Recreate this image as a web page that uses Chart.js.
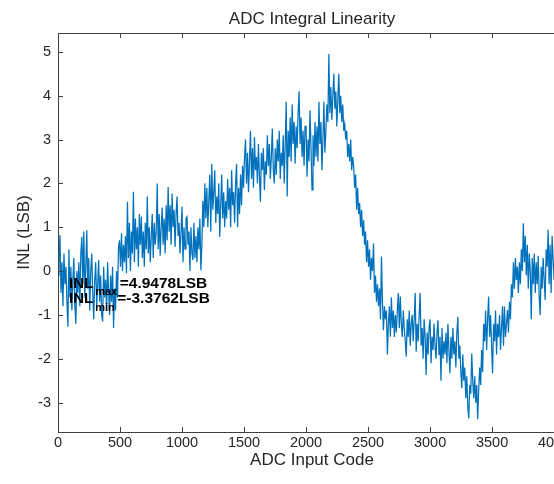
<!DOCTYPE html>
<html>
<head>
<meta charset="utf-8">
<title>ADC Integral Linearity</title>
<script src="https://cdn.jsdelivr.net/npm/chart.js@4.4.1/dist/chart.umd.min.js"></script>
<style>
  html, body { margin: 0; padding: 0; background: #fff; overflow: hidden; }
  #wrap { width: 600px; height: 484px; }
</style>
</head>
<body>
<div id="wrap"><canvas id="inlChart" width="600" height="484"></canvas></div>
<script>
// INL every 8 codes (0 .. 4000)
const codeStep = 8;
const inl = [
  -0.1, 0.3, 0.82, -0.5, 0.2, -0.8, 0.4, -0.3, 0.1, -0.7,
  -1.27, 0.5, -0.6, 0.1, -0.9, -0.2, 0.3, -0.8, -1.2, 0.0,
  -0.5, 0.2, -0.8, 0.4, 0.78, -0.3, 0.9, -0.6, 0.1, 0.93,
  -0.4, 0.3, -0.9, 0.0, 0.4, -0.5, -1.1, -0.2, 0.2, -0.8,
  -0.3, 0.25, -0.7, -0.1, -1.0, -1.15, 0.1, -0.6, -0.2, -0.9,
  0.2, -0.5, -1.0, -0.1, -0.7, 0.1, -1.3, -0.4, -0.9, 0.0,
  -0.6, 0.55, 0.7, 0.1, 0.86, 0.0, 0.6, 0.2, 0.8, -0.05,
  1.58, 0.3, 1.1, 0.0, 0.9, 0.4, 1.81, 0.2, 1.2, 0.5,
  1.0, 0.1, 1.3, 0.6, 1.24, 0.3, 0.9, 0.1, 1.1, 0.5,
  1.7, 0.4, 1.0, 0.2, 0.8, 1.3, 0.3, 1.1, 0.6, 0.9,
  2.0, 0.5, 1.3, 0.35, 1.0, 1.45, 0.6, 1.2, 0.4, 1.5,
  0.7, 1.92, 0.9, 1.5, 0.6, 1.77, 1.0, 1.4, 0.55, 1.3,
  1.7, 0.8, 1.1, 0.4, 0.9, 1.47, 0.2, 1.0, 0.5, 1.2,
  1.24, 0.6, 0.9, 0.0, 1.0, 0.4, 0.25, 1.1, 0.3, 0.8,
  0.2, 1.0, 0.5, 1.2, 0.02, 0.6, 1.6, 1.0, 2.0, 1.2,
  1.9, 1.0, 1.6, 2.2, 0.9, 2.45, 1.4, 1.8, 2.3, 1.1,
  1.7, 1.3, 2.0, 0.78, 1.5, 2.2, 1.2, 1.8, 1.0, 1.6,
  1.2, 2.1, 1.4, 1.9, 1.0, 2.3, 1.5, 1.8, 1.1, 2.0,
  2.45, 1.0, 1.9, 1.3, 2.2, 1.5, 2.4, 1.9, 2.6, 3.0,
  2.0, 2.7, 1.8, 2.5, 3.2, 2.1, 2.8, 1.9, 3.05, 2.3,
  2.6, 2.0, 2.9, 2.2, 1.58, 2.7, 2.3, 2.8, 1.85, 2.5,
  2.2, 3.1, 2.4, 2.9, 2.1, 2.6, 3.25, 2.3, 2.0, 2.8,
  2.2, 3.0, 2.5, 3.2, 2.1, 2.7, 2.4, 3.1, 2.0, 2.9,
  3.86, 1.7, 3.2, 2.6, 3.5, 2.5, 3.8, 2.9, 3.4, 2.45,
  3.3, 2.8, 3.6, 4.1, 2.9, 3.5, 2.6, 3.2, 2.4, 3.3,
  3.3, 2.15, 3.0, 2.5, 3.67, 2.8, 1.85, 3.1, 2.4, 3.4,
  2.6, 3.3, 2.5, 3.86, 2.9, 3.4, 2.3, 3.0, 3.86, 2.7,
  3.2, 3.8, 3.4, 4.948, 3.6, 4.2, 3.45, 4.0, 4.5, 3.7,
  4.1, 3.3, 3.9, 4.5, 3.6, 4.0, 3.4, 3.8, 3.2, 3.35,
  3.0, 3.2, 2.6, 2.9, 2.5, 3.0, 2.3, 2.6, 2.4, 1.9,
  2.2, 1.4, 1.9, 1.3, 1.55, 1.0, 1.4, 0.8, 1.16, 0.6,
  0.9, 0.2, 0.7, 0.1, 0.5, -0.2, 0.3, 0.0, 0.63, -0.5,
  -0.1, -0.7, -0.3, -0.8, -0.4, -1.1, 0.33, -0.7, -1.35, -0.8,
  -1.1, -0.9, -1.9, -1.2, -0.8, -1.5, -0.6, -1.3, -0.9, -1.5,
  -1.0, -1.4, -0.9, -0.5, -1.3, -0.58, -1.2, -1.5, -0.9, -1.3,
  -1.6, -1.95, -1.1, -1.5, -0.9, -1.7, -1.2, -1.0, -1.6, -1.1,
  -0.5, -1.84, -1.2, -1.6, -1.0, -0.5, -1.7, -1.3, -2.0, -1.1,
  -1.5, -2.37, -1.4, -1.9, -1.3, -1.1, -2.1, -1.5, -1.8, -1.2,
  -1.7, -2.0, -1.4, -1.12, -1.9, -1.5, -2.5, -1.3, -2.0, -1.6,
  -1.9, -1.4, -2.1, -1.2, -1.8, -2.33, -1.5, -2.0, -1.3, -1.9,
  -1.6, -2.2, -1.4, -1.04, -2.0, -1.7, -2.3, -2.67, -1.9, -2.5,
  -2.2, -2.9, -2.4, -3.1, -3.36, -2.6, -2.8, -1.88, -2.5, -2.9,
  -2.4, -3.0, -2.6, -3.376, -2.7, -2.2, -2.6, -1.8, -2.3, -1.2,
  -1.6, -0.9, -1.8, -1.1, -0.58, -1.5, -1.0, -1.7, -2.33, -1.2,
  -1.6, -0.9, -1.9, -1.2, -1.5, -1.0, -1.8, -1.3, -0.8, -1.7,
  -0.81, -1.5, -1.2, -0.89, -1.4, -0.7, -1.1, -0.3, -0.6, 0.2,
  -0.4, 0.3, -0.2, 0.1, -0.5, 0.2, -0.3, 0.5, 0.0, 1.09,
  0.2, 0.8, -0.1, 0.6, -0.4, 0.4, 0.0, -1.1, 0.3, -0.3,
  0.4, -0.5, 0.2, -0.3, 0.35, -0.6, -1.0, 0.1, -0.4, 0.3,
  -0.2, -0.66, 0.5, 0.1, 0.94, -0.3, 0.6, -0.5, 0.8, 0.3,
  -0.2
];

const xTicks = [0, 500, 1000, 1500, 2000, 2500, 3000, 3500, 4000];
const yTicks = [-3, -2, -1, 0, 1, 2, 3, 4, 5];

// text(…) in data units, like the matlab script
const noteCode = 89;
const noteLines = [
  { sub: 'max', text: '=4.9478LSB', y: -0.28 },
  { sub: 'min', text: '=-3.3762LSB', y: -0.64 }
];

const family = "'Liberation Sans', Arial, Helvetica, sans-serif";
const axisColor = '#262626';
Chart.defaults.font.family = family;
Chart.defaults.color = axisColor;

// matlab-style box with inward ticks
const axesBox = {
  id: 'axesBox',
  afterDatasetsDraw(chart) {
    const { ctx, chartArea: a, scales: { x, y } } = chart;
    const len = 5;
    ctx.save();
    ctx.strokeStyle = '#404040';
    ctx.lineWidth = 1;
    ctx.strokeRect(a.left + 0.5, a.top + 0.5, a.right - a.left, a.bottom - a.top);
    ctx.beginPath();
    x.ticks.forEach(t => {
      const px = Math.round(x.getPixelForValue(t.value)) + 0.5;
      ctx.moveTo(px, a.bottom); ctx.lineTo(px, a.bottom - len);
      ctx.moveTo(px, a.top); ctx.lineTo(px, a.top + len);
    });
    y.ticks.forEach(t => {
      const py = Math.round(y.getPixelForValue(t.value)) + 0.5;
      ctx.moveTo(a.left, py); ctx.lineTo(a.left + len, py);
      ctx.moveTo(a.right, py); ctx.lineTo(a.right - len, py);
    });
    ctx.stroke();
    ctx.restore();
  }
};

const inlNote = {
  id: 'inlNote',
  afterDraw(chart) {
    const { ctx, scales: { x, y } } = chart;
    ctx.save();
    ctx.fillStyle = '#000';
    ctx.textBaseline = 'middle';
    noteLines.forEach(line => {
      let px = x.getPixelForValue(noteCode);
      const py = y.getPixelForValue(line.y);
      ctx.font = 'bold 15px ' + family;
      ctx.fillText('INL', px, py);
      px += ctx.measureText('INL').width + 2;
      ctx.font = 'bold 11px ' + family;
      ctx.fillText(line.sub, px, py + 8.5);
      px += ctx.measureText(line.sub).width + 2.5;
      ctx.font = 'bold 15.5px ' + family;
      ctx.fillText(line.text, px, py);
    });
    ctx.restore();
  }
};

new Chart(document.getElementById('inlChart'), {
  type: 'line',
  data: {
    datasets: [{
      data: inl.map((v, i) => ({ x: i * codeStep, y: v })),
      borderColor: '#0072BD',
      borderWidth: 1.25,
      pointRadius: 0,
      tension: 0
    }]
  },
  options: {
    responsive: false,
    animation: false,
    devicePixelRatio: 1,
    layout: { padding: { left: 0, right: 34, top: 0, bottom: 0 } },
    plugins: {
      legend: { display: false },
      tooltip: { enabled: false },
      title: {
        display: true,
        text: 'ADC Integral Linearity',
        fullSize: false,
        color: axisColor,
        font: { size: 17, weight: 'normal' },
        padding: { top: 9.2, bottom: 3.4 }
      }
    },
    scales: {
      x: {
        type: 'linear',
        min: 0,
        max: 4096,
        afterBuildTicks: s => { s.ticks = xTicks.map(v => ({ value: v })); },
        afterFit: s => { s.height = 52; },
        grid: { display: false, drawTicks: false },
        border: { display: false },
        ticks: {
          color: axisColor,
          font: { size: 14.5 },
          padding: 2.3,
          maxRotation: 0,
          autoSkip: false,
          callback: v => String(v)
        },
        title: {
          display: true,
          text: 'ADC Input Code',
          color: axisColor,
          font: { size: 17 },
          padding: { top: 0, bottom: 13 }
        }
      },
      y: {
        type: 'linear',
        min: -3.67,
        max: 5.43,
        afterBuildTicks: s => { s.ticks = yTicks.map(v => ({ value: v })); },
        afterFit: s => { s.width = 58; },
        grid: { display: false, drawTicks: false },
        border: { display: false },
        ticks: {
          color: axisColor,
          font: { size: 14.5 },
          padding: 7,
          callback: v => String(v)
        },
        title: {
          display: true,
          text: 'INL (LSB)',
          color: axisColor,
          font: { size: 17 },
          padding: { top: 14.3, bottom: 0 }
        }
      }
    }
  },
  plugins: [axesBox, inlNote]
});
</script>
</body>
</html>
